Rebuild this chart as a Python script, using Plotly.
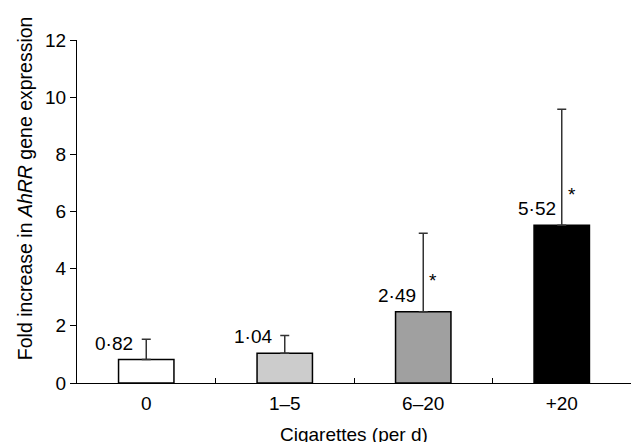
import plotly.graph_objects as go

categories = ["0", "1–5", "6–20", "+20"]
values = [0.82, 1.04, 2.49, 5.52]
err_plus = [0.71, 0.62, 2.75, 4.06]
value_labels = ["0·82", "1·04", "2·49", "5·52"]
significant = [False, False, True, True]
bar_colors = ["#ffffff", "#cccccc", "#a0a0a0", "#000000"]
y_ticks = [0, 2, 4, 6, 8, 10, 12]

FONT = "Liberation Sans, Arial, sans-serif"
FS = 19

fig = go.Figure()
fig.add_trace(go.Bar(
    x=categories, y=values,
    width=0.4,
    marker=dict(color=bar_colors, line=dict(color="#000000", width=1.5)),
    error_y=dict(type="data", symmetric=False, array=err_plus, arrayminus=[0]*4,
                 color="#333333", thickness=1.5, width=4.5),
    showlegend=False,
))

label_shift = [-11, -11, -5, -4]
for i, v in enumerate(values):
    fig.add_annotation(x=i, y=v, xref="x", yref="y", text=value_labels[i], showarrow=False,
                       xanchor="right", yanchor="bottom", xshift=label_shift[i], yshift=4,
                       font=dict(family=FONT, size=FS, color="#000"))
    if significant[i]:
        fig.add_annotation(x=i, y=v, xref="x", yref="y", text="*", showarrow=False,
                           xanchor="center", yanchor="middle", xshift=10, yshift=31,
                           font=dict(family=FONT, size=FS, color="#000"))

# axis titles
fig.add_annotation(x=0.5, y=0, xref="paper", yref="paper", text="Cigarettes (per d)",
                   showarrow=False, xanchor="center", yanchor="middle", yshift=-51,
                   font=dict(family=FONT, size=FS, color="#000"))
fig.add_annotation(x=0, y=0.568, xref="paper", yref="paper",
                   text="Fold increase in <i>AhRR</i> gene expression",
                   showarrow=False, textangle=-90, xanchor="center", yanchor="middle", xshift=-52,
                   font=dict(family=FONT, size=19.5, color="#000"))

fig.update_layout(
    width=631, height=442,
    margin=dict(l=77, r=0, t=40, b=59),
    plot_bgcolor="white", paper_bgcolor="white",
    font=dict(family=FONT, size=FS, color="#000"),
)
fig.update_xaxes(
    type="category", tickson="boundaries", ticks="inside", ticklen=5, tickwidth=1.2,
    tickcolor="#000", showline=True, linecolor="#000", linewidth=1.3,
    range=[-0.5, 3.5], automargin=False, ticklabelstandoff=3,
    tickfont=dict(size=FS), showgrid=False,
)
fig.update_yaxes(
    range=[0, 12], tickvals=y_ticks, ticks="outside", ticklen=6, tickwidth=1.2,
    tickcolor="#000", showline=True, linecolor="#000", linewidth=1.3,
    showgrid=False, zeroline=False, automargin=False,
    tickfont=dict(size=FS),
)

fig.write_html("out.html", config={"displayModeBar": False},
               post_script="document.body.style.margin='0';document.body.style.overflow='hidden';")
